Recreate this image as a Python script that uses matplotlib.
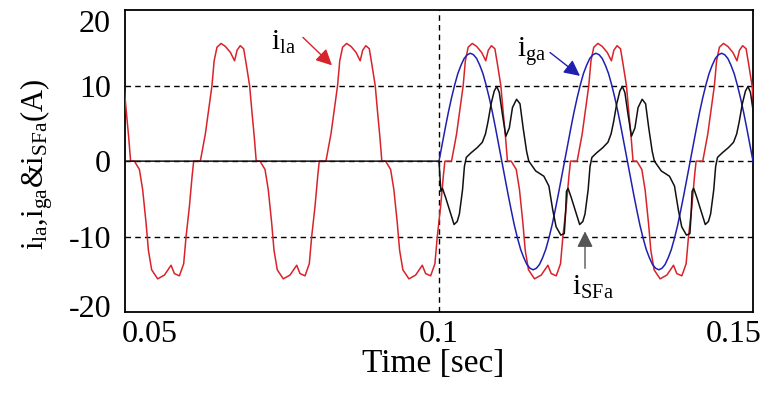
import numpy as np
import matplotlib; matplotlib.use("Agg")
import matplotlib.pyplot as plt
from matplotlib.transforms import ScaledTranslation

plt.rcParams.update({"font.family": "Liberation Serif", "mathtext.default": "regular",
                     "axes.linewidth": 1.3})

# ---- data (one 50 Hz cycle each, times in ms from the grid zero-crossing) ----
CYCLE_STARTS = [0.04, 0.06, 0.08, 0.10, 0.12, 0.14]   # load current runs over the whole window
COMP_STARTS = [0.10, 0.12, 0.14]                       # filter switched on at 0.1 s

LOAD_MS = [0.94, 2.0, 2.8, 3.3, 3.85, 4.2, 4.65, 5.3, 6.0, 6.8, 7.45, 7.85, 8.35, 8.9,
           9.3, 9.85, 10.2, 10.6, 10.9, 11.5, 12.3, 12.82, 13.36, 13.73, 14.25, 15.21,
           16.28, 17.34, 17.87, 18.67, 19.35, 19.73, 20.26, 20.69]
LOAD_A = [0.0, 0.0, 3.6, 6.7, 10.0, 13.3, 15.1, 15.6, 15.2, 14.4, 13.3, 14.7, 15.3, 14.9,
          12.9, 10.0, 6.7, 3.1, 0.0, 0.0, -1.1, -3.8, -8.2, -11.8, -14.4, -15.6,
          -15.1, -13.8, -14.9, -15.2, -13.6, -10.0, -6.0, -2.0]

GRID_MS = np.arange(0, 20, 0.5)
GRID_A = [0.0, 2.2, 4.4, 6.5, 8.4, 10.1, 11.6, 12.7, 13.6, 14.1, 14.3, 14.1, 13.6, 12.7,
          11.6, 10.1, 8.4, 6.5, 4.4, 2.2, 0.0, -2.2, -4.4, -6.5, -8.5, -10.2, -11.7,
          -12.8, -13.7, -14.2, -14.4, -14.2, -13.7, -12.8, -11.7, -10.2, -8.5, -6.5,
          -4.4, -2.2]

SF_MS = [0.3, 0.55, 1.05, 1.8, 2.4, 2.9, 3.25, 3.75, 4.05, 4.35, 5.1, 6.1, 6.9, 7.4, 7.8,
         8.3, 8.8, 9.2, 9.6, 10.1, 10.65, 11.2, 11.7, 12.35, 12.9, 13.4, 13.95, 14.3,
         15.4, 16.7, 17.5, 18.1, 18.65, 19.4, 19.95, 20.15]
SF_A = [-4.0, -3.6, -4.8, -6.8, -8.4, -8.0, -7.0, -3.8, -0.7, 0.5, 1.1, 1.8, 2.5, 3.6, 5.2,
        7.6, 9.3, 9.9, 9.1, 6.2, 3.3, 4.4, 7.1, 8.2, 7.6, 4.4, 1.3, 0.0,
        -1.3, -2.0, -3.3, -6.4, -8.7, -9.8, -9.6, -7.0]
SF_OFF_T = [0.05, 0.10]      # filter current before switching on
SF_OFF_A = [0.0, 0.0]

RED = "#d8232a"; BLUE = "#2020b0"; BLACK = "#111111"; GRAY = "#555555"


def tile(starts, ms, vals):
    t = np.concatenate([s + np.asarray(ms) / 1000 for s in starts])
    return t, np.tile(vals, len(starts))


def nudge(lbl, dx, dy):
    lbl.set_transform(lbl.get_transform() + ScaledTranslation(dx, dy, fig.dpi_scale_trans))


t_l, i_l = tile(CYCLE_STARTS, LOAD_MS, LOAD_A)
t_g, i_g = tile(COMP_STARTS, GRID_MS, GRID_A)
t_s, i_s = tile(COMP_STARTS, SF_MS, SF_A)
t_s = np.concatenate([SF_OFF_T, t_s]); i_s = np.concatenate([SF_OFF_A, i_s])

fig = plt.figure(figsize=(7.69, 3.94), dpi=100)
ax = fig.add_axes([0.1625, 0.208, 0.8167, 0.766])

for y in (10, 0, -10):
    ax.axhline(y, color="black", ls=(0, (4, 3)), lw=1.0, zorder=1)
ax.axvline(0.1, color="black", ls=(0, (4, 3)), lw=1.0, zorder=1)

ax.plot(t_l, i_l, color=RED, lw=1.1, zorder=3)
ax.plot(t_g, i_g, color=BLUE, lw=1.1, zorder=3)
ax.plot(t_s, i_s, color=BLACK, lw=1.1, zorder=4)

ax.set_xlim(0.05, 0.15); ax.set_ylim(-20, 20)
ax.set_xticks([0.05, 0.1, 0.15]); ax.set_xticklabels(["0.05", "0.1", "0.15"])
ax.set_yticks([20, 10, 0, -10, -20]); ax.set_yticklabels(["20", "10", "0", "-10", "-20"])
ax.tick_params(length=0, labelsize=23)
ax.tick_params(axis="y", pad=10)
ax.tick_params(axis="x", pad=6)
xl = ax.get_xticklabels()
xl[0].set_horizontalalignment("left"); xl[2].set_horizontalalignment("right")
nudge(xl[0], -0.03, 0); nudge(xl[2], 0.09, 0)
yl = ax.get_yticklabels()
nudge(yl[0], 0, -0.11); nudge(yl[4], 0, 0.06)

ax.set_xlabel("Time [sec]", fontsize=24)
ax.xaxis.set_label_coords(0.49, -0.122, transform=ax.transAxes)
ax.xaxis.label.set_verticalalignment("top")
ax.set_ylabel(r"$i_{la}$,$i_{ga}$&$i_{SFa}$(A)", fontsize=22)
ax.yaxis.set_label_coords(-0.112, 0.49)

arrow = dict(arrowstyle="-|>", lw=1.0, mutation_scale=24, shrinkA=0, shrinkB=0)
ax.annotate("", xy=(0.08296, 12.7), xytext=(0.07834, 16.4), arrowprops={**arrow, "color": RED})
ax.text(0.0733, 14.7, r"$i_{la}$", fontsize=21, ha="left", va="baseline")
ax.annotate("", xy=(0.12245, 11.3), xytext=(0.11768, 14.4), arrowprops={**arrow, "color": BLUE})
ax.text(0.1125, 13.8, r"$i_{ga}$", fontsize=21, ha="left", va="baseline")
ax.annotate("", xy=(0.12325, -9.3), xytext=(0.12325, -14.2), arrowprops={**arrow, "color": GRAY})
ax.text(0.1211, -17.7, r"$i_{SFa}$", fontsize=21, ha="left", va="baseline")

fig.savefig("out.png", dpi=100)
